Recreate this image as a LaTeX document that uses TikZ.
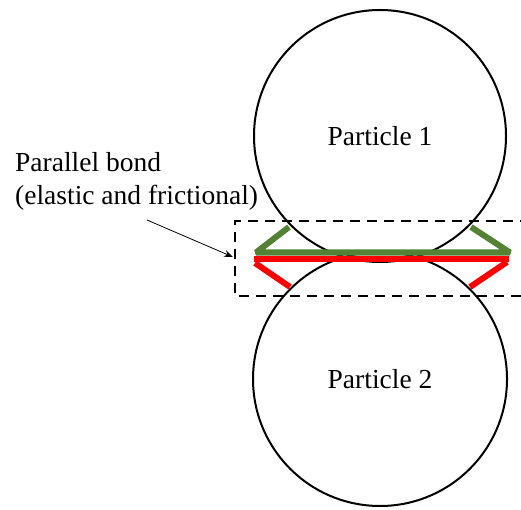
\documentclass[tikz,border=0pt]{standalone}
\usepackage{fontspec}
\setmainfont{Liberation Serif}
\usetikzlibrary{arrows.meta}
\definecolor{bondgreen}{HTML}{548235}
\definecolor{bondred}{HTML}{FF0000}
\begin{document}
\begin{tikzpicture}[x=1pt,y=-1pt,
  particle/.style={circle,draw=black,line width=2pt,minimum size=#1,inner sep=0pt,
    font=\fontsize{27.5}{33}\selectfont},
  lbl/.style={anchor=base west,inner sep=0pt,font=\fontsize{27.5}{33}\selectfont},
  gbond/.style={draw=bondgreen,line width=6pt,line cap=butt,line join=bevel},
  rbond/.style={draw=bondred,line width=6pt,line cap=butt,line join=bevel},
  box/.style={draw=black,line width=2.2pt,dash pattern=on 10pt off 7pt},
  pointer/.style={draw=black,line width=0.8pt,-{Stealth[length=9pt,width=7pt]}}]
\useasboundingbox (0,0) rectangle (521,510);
\node[particle=252pt] (p1) at (380,136) {Particle 1};
\node[particle=254pt] (p2) at (380,379) {Particle 2};
% bond lines
\coordinate (gl) at (256,252.5);
\coordinate (gr) at (510,252.5);
\coordinate (glt) at (289,227);
\coordinate (grt) at (471,227);
\coordinate (rl) at (254,258.7);
\coordinate (rr) at (509,258.7);
\coordinate (rlb) at (290,287);
\coordinate (rrb) at (470,287);
\draw[gbond] (glt) -- (gl) -- (gr) -- (grt);
\draw[rbond] (rl) -- (rr);
\draw[rbond] (255,263) -- (rlb);
\draw[rbond] (507,262) -- (rrb);
% dashed box
\draw[box] (530,221) -- (235,221) -- (235,296) -- (530,296);
% label
\node[lbl] (l1) at (15,172) {Parallel bond};
\node[lbl] (l2) at (15,205) {(elastic and frictional)};
\coordinate (as) at (147,220);
\coordinate (ae) at (233,257);
\draw[pointer] (as) -- (ae);
\end{tikzpicture}
\end{document}
